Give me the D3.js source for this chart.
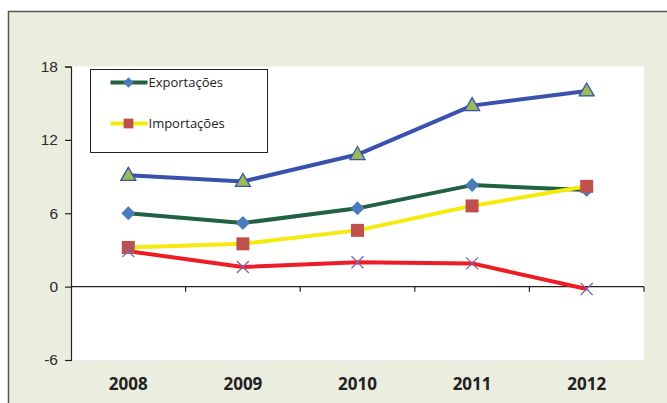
<!DOCTYPE html>
<html>
<head>
<meta charset="utf-8">
<script src="https://cdn.jsdelivr.net/npm/d3@7"></script>
<style>
  body { margin: 0; background: #fff; }
  svg { display: block; font-family: "Open Sans", sans-serif; }
</style>
</head>
<body>
<svg id="chart" width="667" height="403"></svg>
<script>
// chart data
const years = ['2008', '2009', '2010', '2011', '2012'];
const yTicks = [-6, 0, 6, 12, 18];
const saldo = [9.1, 8.6, 10.8, 14.8, 16.0];
const exportacoes = [6.0, 5.2, 6.4, 8.3, 7.9];
const importacoes = [3.2, 3.5, 4.6, 6.6, 8.2];
const quarta = [2.9, 1.6, 2.0, 1.9, -0.2];

const series = [
    { name: 'saldo', values: saldo, color: '#3a52ad', marker: 'triangle' },
    { name: 'Exportações', values: exportacoes, color: '#1f6140', marker: 'diamond', legend: true },
    { name: 'Importações', values: importacoes, color: '#f6ea0c', marker: 'square', legend: true },
    { name: 'quarta', values: quarta, color: '#ee1c25', marker: 'cross' }
];

const svg = d3.select('#chart');

// outer frame
svg.append('rect')
    .attr('x', 8.5).attr('y', 11.5)
    .attr('width', 680).attr('height', 400)
    .attr('fill', '#ebeedf')
    .attr('stroke', '#55584c')
    .attr('stroke-width', 1.5);

const margin = { top: 66.5, left: 71, right: 23, bottom: 43 };
const width = 667 - margin.left - margin.right;
const height = 403 - margin.top - margin.bottom;

const g = svg.append('g')
    .attr('transform', `translate(${margin.left},${margin.top})`);

// plot area
g.append('rect')
    .attr('width', width).attr('height', height)
    .attr('fill', '#fff');

const x = d3.scaleBand().domain(years).range([0, width]);
const y = d3.scaleLinear().domain([-6, 18]).range([height, 0]);

// y axis
const yAxis = g.append('g')
    .call(d3.axisLeft(y).tickValues(yTicks).tickFormat(d => String(d)).tickSize(6).tickPadding(7));
yAxis.select('.domain').attr('stroke', '#222').attr('stroke-width', 1.2);
yAxis.selectAll('.tick line').attr('stroke', '#222').attr('stroke-width', 1.2);
yAxis.selectAll('text').attr('font-size', 15.5).attr('fill', '#2a2a2a');

// x axis line at zero with ticks between categories
const xAxisG = g.append('g').attr('transform', `translate(0,${y(0)})`);
xAxisG.append('line')
    .attr('x1', 0).attr('x2', width)
    .attr('stroke', '#222').attr('stroke-width', 1.2);
const bounds = years.map(d => x(d)).concat([width]).slice(1);
xAxisG.selectAll('.xt')
    .data(bounds)
    .join('line')
    .attr('x1', d => d).attr('x2', d => d)
    .attr('y1', 0).attr('y2', 5)
    .attr('stroke', '#222').attr('stroke-width', 1.2);

// category labels
g.selectAll('.cat')
    .data(years)
    .join('text')
    .attr('x', d => x(d) + x.bandwidth() / 2)
    .attr('y', height + 30)
    .attr('text-anchor', 'middle')
    .attr('font-size', 17)
    .attr('font-weight', 'bold')
    .attr('fill', '#222')
    .text(d => d);

const line = d3.line()
    .x((d, i) => x(years[i]) + x.bandwidth() / 2)
    .y(d => y(d));

function drawMarker(sel, type, cx, cy, k = 1) {
    if (type === 'triangle') {
        sel.append('path')
            .attr('d', `M${cx},${cy - 8}L${cx + 7.5},${cy + 5}L${cx - 7.5},${cy + 5}Z`)
            .attr('fill', '#9bbb59').attr('stroke', '#3a52ad').attr('stroke-width', 1.3);
    } else if (type === 'diamond') {
        const r = 7 * k;
        sel.append('path')
            .attr('d', `M${cx},${cy - r}L${cx + r},${cy}L${cx},${cy + r}L${cx - r},${cy}Z`)
            .attr('fill', '#4a7ebb');
    } else if (type === 'square') {
        const r = 6.5 * k;
        sel.append('rect')
            .attr('x', cx - r).attr('y', cy - r)
            .attr('width', 2 * r).attr('height', 2 * r)
            .attr('fill', '#c0504d');
    } else {
        sel.append('path')
            .attr('d', `M${cx - 6},${cy - 6}L${cx + 6},${cy + 6}M${cx + 6},${cy - 6}L${cx - 6},${cy + 6}`)
            .attr('stroke', '#8064a2').attr('stroke-width', 1.3).attr('fill', 'none');
    }
}

// lines then markers
series.forEach(s => {
    g.append('path')
        .datum(s.values)
        .attr('d', line)
        .attr('fill', 'none')
        .attr('stroke', s.color)
        .attr('stroke-width', 4)
        .attr('stroke-linejoin', 'round');
});
series.forEach(s => {
    const mg = g.append('g');
    s.values.forEach((v, i) => {
        drawMarker(mg, s.marker, x(years[i]) + x.bandwidth() / 2, y(v));
    });
});

// legend
const leg = svg.append('g').attr('transform', 'translate(90.5,69.5)');
leg.append('rect')
    .attr('width', 177).attr('height', 83)
    .attr('fill', '#fff').attr('stroke', '#222').attr('stroke-width', 1);
series.filter(s => s.legend).forEach((s, i) => {
    const ly = 13 + i * 41;
    leg.append('line')
        .attr('x1', 20).attr('x2', 57)
        .attr('y1', ly).attr('y2', ly)
        .attr('stroke', s.color).attr('stroke-width', 4);
    drawMarker(leg, s.marker, 38, ly, 0.75);
    leg.append('text')
        .attr('x', 58).attr('y', ly + 4.5)
        .attr('font-size', 13)
        .attr('fill', '#222')
        .text(s.name);
});
</script>
</body>
</html>
